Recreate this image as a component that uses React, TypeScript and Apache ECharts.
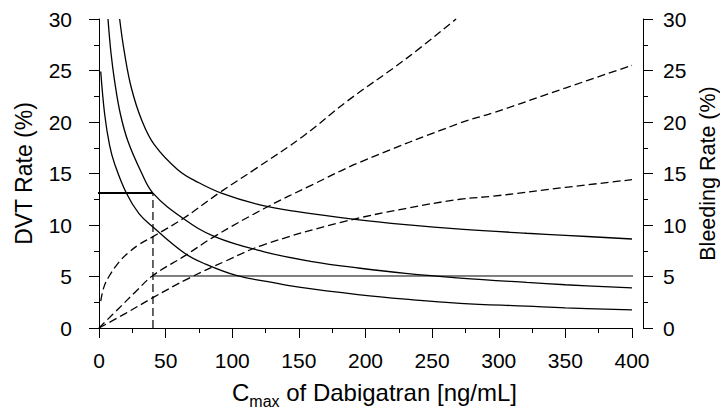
import React, { useEffect, useRef } from "react";
import * as echarts from "echarts";

// Concentration axis (ng/mL) and rate axes (%)
const concMin = 0;
const concMax = 400;
const concStep = 50;
const rateMin = 0;
const rateMax = 30;
const rateStep = 5;

// DVT rate curves (left axis), [Cmax, %]
const dvtLow: [number, number][] = [
  [1.3, 24.9], [4.3, 20.7], [8, 17.7], [11.8, 15.9], [20.5, 13.1], [30, 11.1],
  [40.5, 9.8], [64.3, 7.25], [80, 6.2], [103, 5.1], [126.8, 4.5], [150, 3.96],
  [196, 3.22], [230, 2.8], [271, 2.4], [321, 2.12], [350, 1.95], [400, 1.75],
];
const dvtMid: [number, number][] = [
  [6.75, 30], [9, 26.7], [11.8, 23.9], [16, 20.8], [21.8, 18.1], [31.8, 15.1],
  [40.5, 13.1], [63, 10.65], [86.8, 8.87], [124, 7.4], [160, 6.45], [196, 5.8],
  [230, 5.3], [271, 4.85], [321, 4.42], [350, 4.2], [400, 3.9],
];
const dvtHigh: [number, number][] = [
  [15.5, 30], [19, 26.8], [24.3, 23.3], [32, 20.2], [41.5, 17.8], [59.3, 15.35],
  [75, 14.1], [91.8, 13.1], [120.8, 11.95], [150, 11.27], [192, 10.55],
  [230, 10.04], [271, 9.6], [321, 9.2], [350, 9.0], [400, 8.64],
];

// Bleeding rate curves (right axis), [Cmax, %]
const bleedHigh: [number, number][] = [
  [1.3, 2.6], [3.5, 3.9], [7, 4.9], [15, 6.4], [22, 7.3], [30, 8.1], [40.5, 8.87],
  [64, 10.7], [90, 13.1], [118, 15.5], [153, 18.6], [186, 22.0], [230, 26.1],
  [268, 30],
];
const bleedMid: [number, number][] = [
  [0, 0], [14.8, 1.9], [27.3, 3.5], [40.5, 5.1], [64.3, 7.0], [86.8, 8.9],
  [124, 11.6], [160, 13.9], [196, 16.1], [271, 19.9], [296, 20.9], [350, 23.3],
  [400, 25.5],
];
const bleedLow: [number, number][] = [
  [0, 0], [20, 1.42], [40.5, 2.95], [67, 4.8], [95, 6.5], [124, 8.1], [183, 10.3],
  [230, 11.6], [271, 12.5], [296, 12.8], [350, 13.65], [400, 14.4],
];

// Reference values
const refConc = 40.5;
const refDvt = 13.1;
const refBleed = 5.05;
const leftEdgeConc = -8.25;
const rightEdgeConc = 408.25;

const FONT = "'Liberation Sans', Arial, Helvetica, sans-serif";

export default function App() {
  const ref = useRef<HTMLDivElement>(null);

  useEffect(() => {
    if (!ref.current) return;
    const chart = echarts.init(ref.current, null, { renderer: "svg" });

    const curve = (data: [number, number][], axis: number, dashed: boolean) => ({
      type: "line",
      data,
      yAxisIndex: axis,
      showSymbol: false,
      symbol: "none",
      smooth: 0.4,
      clip: false,
      lineStyle: {
        color: "#000",
        width: 1.3,
        type: dashed ? [8, 4] : "solid",
      },
      silent: true,
    });

    const tickCommon = {
      axisLine: { show: true, lineStyle: { color: "#000", width: 1 } },
      axisTick: { show: true, length: 10, lineStyle: { color: "#000", width: 1 } },
      minorTick: { show: true, splitNumber: 2, length: 5, lineStyle: { color: "#000", width: 1 } },
      splitLine: { show: false },
      minorSplitLine: { show: false },
    };

    chart.setOption({
      animation: false,
      backgroundColor: "#fff",
      textStyle: { fontFamily: FONT, color: "#000" },
      grid: {
        left: 99,
        right: 88,
        top: 19,
        bottom: 82,
        containLabel: false,
        outerBoundsMode: "none",
      },
      xAxis: {
        type: "value",
        min: concMin,
        max: concMax,
        interval: concStep,
        ...tickCommon,
        axisLabel: { margin: 22, fontSize: 21, color: "#000", fontFamily: FONT },
        name: "{a|C}{s|max}{a| of Dabigatran [ng/mL]}",
        nameLocation: "middle",
        nameGap: 47,
        nameTextStyle: {
          color: "#000",
          fontFamily: FONT,
          padding: [0, 0, 0, 18],
          rich: {
            a: { fontSize: 24, lineHeight: 34, color: "#000", fontFamily: FONT },
            s: { fontSize: 16, lineHeight: 16, verticalAlign: "bottom", color: "#000", fontFamily: FONT },
          },
        },
      },
      yAxis: [
        {
          type: "value",
          position: "left",
          offset: 11,
          min: rateMin,
          max: rateMax,
          interval: rateStep,
          ...tickCommon,
          axisLabel: { margin: 16, fontSize: 21, color: "#000", fontFamily: FONT },
          name: "DVT Rate (%)",
          nameLocation: "middle",
          nameRotate: 90,
          nameGap: 53,
          nameTextStyle: { fontSize: 23, color: "#000", fontFamily: FONT },
        },
        {
          type: "value",
          position: "right",
          offset: 11,
          min: rateMin,
          max: rateMax,
          interval: rateStep,
          ...tickCommon,
          axisLabel: { margin: 20, fontSize: 21, color: "#000", fontFamily: FONT },
          name: "Bleeding Rate (%)",
          nameLocation: "middle",
          nameRotate: 90,
          nameGap: 52,
          nameTextStyle: { fontSize: 21.5, color: "#000", fontFamily: FONT },
        },
      ],
      series: [
        curve(dvtLow, 0, false),
        curve(dvtMid, 0, false),
        curve(dvtHigh, 0, false),
        curve(bleedHigh, 1, true),
        curve(bleedMid, 1, true),
        curve(bleedLow, 1, true),
        {
          type: "line",
          data: [[leftEdgeConc, refDvt], [refConc, refDvt]],
          yAxisIndex: 0,
          symbol: "none",
          clip: false,
          lineStyle: { color: "#000", width: 2 },
          silent: true,
        },
        {
          type: "line",
          data: [[refConc, rateMin], [refConc, refDvt]],
          yAxisIndex: 0,
          symbol: "none",
          clip: false,
          lineStyle: { color: "#000", width: 1.2, type: [8, 4] },
          silent: true,
        },
        {
          type: "line",
          data: [[refConc, refBleed], [rightEdgeConc, refBleed]],
          yAxisIndex: 1,
          symbol: "none",
          clip: false,
          lineStyle: { color: "#000", width: 1 },
          silent: true,
        },
      ],
    });

    return () => chart.dispose();
  }, []);

  return (
    <div
      ref={ref}
      style={{ position: "fixed", left: 0, top: 0, width: 720, height: 410, background: "#fff" }}
    />
  );
}
